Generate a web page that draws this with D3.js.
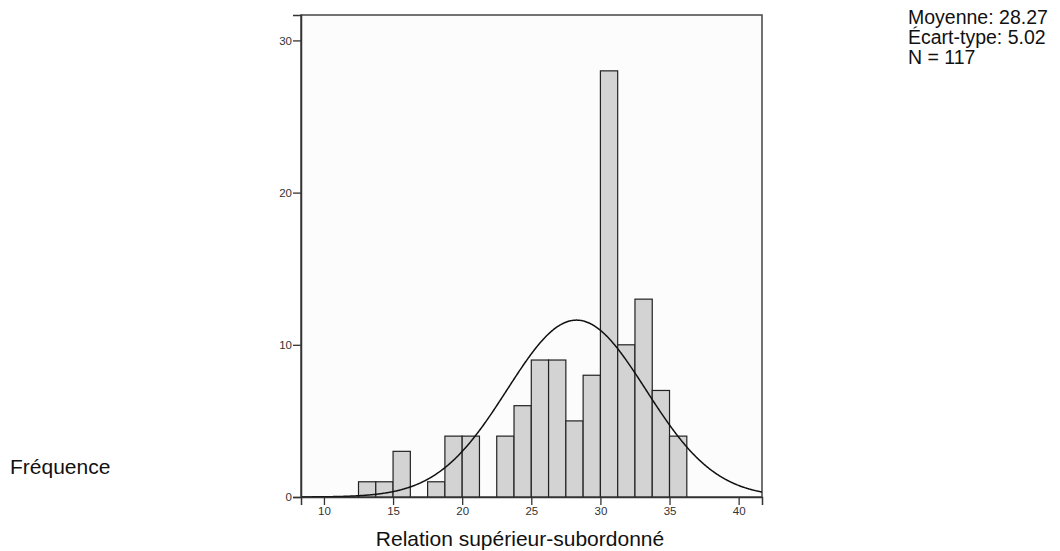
<!DOCTYPE html>
<html>
<head>
<meta charset="utf-8">
<script src="https://cdn.jsdelivr.net/npm/d3@7"></script>
<style>
  html, body { margin: 0; padding: 0; background: #ffffff; }
  svg { display: block; }
  text { font-family: "Liberation Sans", Arial, sans-serif; }
</style>
</head>
<body>
<svg id="chart" width="1060" height="551"></svg>
<script>
// Histogram of "Relation supérieur-subordonné" scores with a fitted normal curve.
const binStarts = [12.5, 13.75, 15, 16.25, 17.5, 18.75, 20, 21.25, 22.5, 23.75,
                   25, 26.25, 27.5, 28.75, 30, 31.25, 32.5, 33.75, 35];
const counts    = [1, 1, 3, 0, 1, 4, 4, 0, 4, 6,
                   9, 9, 5, 8, 28, 10, 13, 7, 4];
const binWidth = 1.25;

const xTicks = [10, 15, 20, 25, 30, 35, 40];
const yTicks = [0, 10, 20, 30];

const mean = 28.27, sd = 5.02, n = 117;
const statLines = ["Moyenne: 28.27", "Écart-type: 5.02", "N = 117"];
const xTitle = "Relation supérieur-subordonné";
const yTitle = "Fréquence";

const svg = d3.select("#chart");
const plotLeft = 301, plotRight = 762, plotTop = 15, plotBottom = 497;

const x = d3.scaleLinear().domain([8.34, 41.69]).range([plotLeft, plotRight]);
const y = d3.scaleLinear().domain([0, 31.67]).range([plotBottom, plotTop]);

// plot area
svg.append("rect")
  .attr("x", plotLeft).attr("y", plotTop)
  .attr("width", plotRight - plotLeft).attr("height", plotBottom - plotTop)
  .attr("fill", "#fcfcfc")
  .attr("stroke", "#444").attr("stroke-width", 1.5);

// bars
svg.append("g").selectAll("rect")
  .data(binStarts.map((s, i) => ({ s, c: counts[i] })).filter(d => d.c > 0))
  .join("rect")
  .attr("x", d => x(d.s))
  .attr("y", d => y(d.c))
  .attr("width", d => x(d.s + binWidth) - x(d.s))
  .attr("height", d => y(0) - y(d.c))
  .attr("fill", "#d3d3d3")
  .attr("stroke", "#222")
  .attr("stroke-width", 1.2);

// fitted normal curve scaled to counts
const pdf = v => n * binWidth / (sd * Math.sqrt(2 * Math.PI)) *
  Math.exp(-0.5 * ((v - mean) / sd) ** 2);
const xs = d3.range(x.domain()[0], x.domain()[1] + 0.001, 0.05);
svg.append("path")
  .datum(xs)
  .attr("d", d3.line().x(v => x(v)).y(v => y(pdf(v))).curve(d3.curveBasis))
  .attr("fill", "none")
  .attr("stroke", "#111")
  .attr("stroke-width", 1.5);

// axes
const xAxis = svg.append("g")
  .attr("transform", `translate(0,${plotBottom})`)
  .call(d3.axisBottom(x).tickValues(xTicks).tickSize(8).tickPadding(2));
const yAxis = svg.append("g")
  .attr("transform", `translate(${plotLeft},0)`)
  .call(d3.axisLeft(y).tickValues(yTicks).tickSize(8).tickPadding(1));
[xAxis, yAxis].forEach(g => {
  g.select(".domain").attr("stroke", "#333").attr("stroke-width", 1.5);
  g.selectAll(".tick line").attr("stroke", "#333").attr("stroke-width", 1.3);
  g.selectAll(".tick text")
    .attr("fill", "#333")
    .style("font-family", "'Liberation Sans', Arial, sans-serif")
    .style("font-size", "11.5px");
});

// titles
svg.append("text")
  .attr("x", 520).attr("y", 546)
  .attr("text-anchor", "middle")
  .style("font-size", "21px")
  .attr("fill", "#111")
  .text(xTitle);

svg.append("text")
  .attr("x", 10).attr("y", 474)
  .style("font-size", "21px")
  .attr("fill", "#111")
  .text(yTitle);

// summary statistics
svg.append("g").selectAll("text")
  .data(statLines)
  .join("text")
  .attr("x", 908)
  .attr("y", (d, i) => 24 + i * 20)
  .style("font-size", "19.5px")
  .attr("fill", "#111")
  .text(d => d);
</script>
</body>
</html>
